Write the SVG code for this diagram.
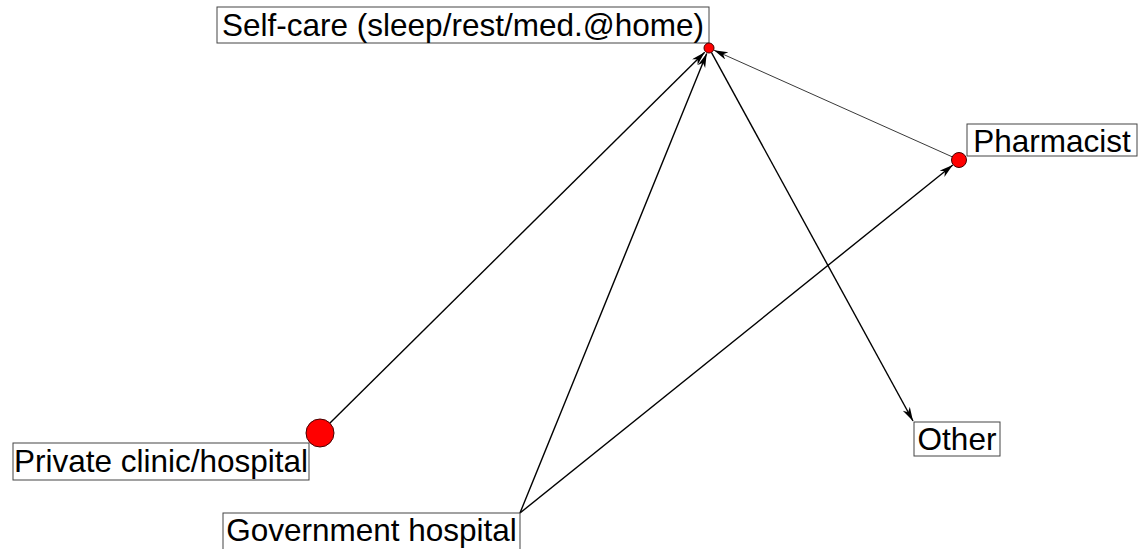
<svg xmlns="http://www.w3.org/2000/svg" width="1138" height="549" viewBox="0 0 1138 549">
<style>
.lbl rect{fill:#fff;stroke:#444;stroke-width:1}
.lbl text{font-family:"Liberation Sans",Arial,sans-serif;font-size:31.5px;fill:#000;text-anchor:middle}
.nd{fill:#f00;stroke:#400;stroke-width:1}
.e{stroke:#000;stroke-width:1.4;fill:none;marker-end:url(#ah)}
.e2{stroke:#222;stroke-width:0.9;fill:none;marker-end:url(#ah)}
</style>
<defs>
<marker id="ah" markerUnits="userSpaceOnUse" markerWidth="16" markerHeight="10" refX="14" refY="4" orient="auto">
<path d="M0,0 L14,4 L0,8 L4,4 z" fill="#000"/>
</marker>
</defs>
<rect width="1138" height="549" fill="#fff"/>
<g id="connectors">
<line class="e" x1="330" y1="423" x2="704.7" y2="52.2"/>
<line class="e" x1="520" y1="513" x2="706.7" y2="53.6"/>
<line class="e" x1="520" y1="513" x2="952.8" y2="165"/>
<line class="e2" x1="952.6" y1="157" x2="714" y2="50.2"/>
<line class="e" x1="711.4" y1="52.4" x2="913" y2="421"/>
</g>
<g id="selfcare" class="lbl">
<rect x="217" y="7" width="492" height="36"/>
<text x="463" y="36">Self-care (sleep/rest/med.@home)</text>
<circle class="nd" cx="709" cy="48" r="5"/>
</g>
<g id="pharmacist" class="lbl">
<rect x="967" y="124" width="170" height="32"/>
<text x="1052" y="152">Pharmacist</text>
<circle class="nd" cx="959" cy="160" r="7.5"/>
</g>
<g id="private" class="lbl">
<rect x="13" y="443" width="296" height="37"/>
<text x="161" y="472">Private clinic/hospital</text>
<circle class="nd" cx="320" cy="433" r="14"/>
</g>
<g id="government" class="lbl">
<rect x="223" y="513" width="297" height="40"/>
<text x="371.5" y="541">Government hospital</text>
</g>
<g id="other" class="lbl">
<rect x="914" y="422" width="86" height="34"/>
<text x="957" y="450">Other</text>
</g>
</svg>
